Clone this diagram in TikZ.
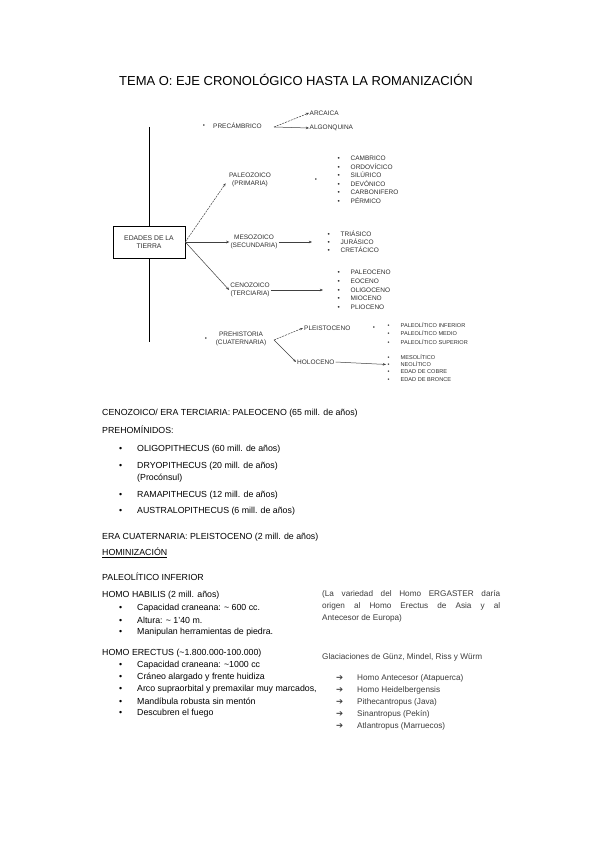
\documentclass[tikz,border=0pt]{standalone}
\usepackage{fontspec}
\setmainfont{Liberation Sans}
\newfontfamily\dejavu{DejaVu Sans}
\usetikzlibrary{arrows.meta,positioning}
\definecolor{inkgray}{HTML}{2E2E2E}
\definecolor{softink}{HTML}{3C3C3C}
\newcommand{\bul}[1]{\makebox[13pt][l]{\textbullet}#1}
\newcommand{\bb}[1]{\makebox[18pt][l]{\textbullet}#1}
\newcommand{\flecha}[1]{\makebox[21pt][l]{\dejavu\fontsize{8.5}{9}\selectfont ➔}#1}
\newcommand{\tld}{\textasciitilde}
\tikzset{
  >={Stealth[length=3.2pt,width=2.6pt]},
  % esquema
  caja/.style={draw=black,line width=0.6pt,minimum width=72pt,minimum height=32pt,
               align=center,font=\fontsize{6.8}{8.5}\selectfont,text=inkgray},
  era/.style={align=center,font=\fontsize{6.5}{8.5}\selectfont,text=inkgray,inner sep=1pt},
  sub/.style={anchor=west,font=\fontsize{6.5}{8}\selectfont,text=inkgray,inner sep=0.5pt},
  subp/.style={sub,font=\fontsize{5.6}{7}\selectfont},
  pt/.style={font=\fontsize{6}{7}\selectfont,text=inkgray,inner sep=0pt},
  tronco/.style={draw=black,line width=0.6pt},
  fl/.style={->,draw=black!75,line width=0.5pt},
  fld/.style={fl,dash pattern=on 2pt off 1pt},
  % texto
  tx/.style={anchor=west,font=\fontsize{8.8}{10}\selectfont,inner sep=0pt},
  txs/.style={tx,font=\fontsize{8.2}{12}\selectfont,text=softink},
}
\begin{document}
\begin{tikzpicture}[x=1pt,y=-1pt]
  \useasboundingbox[fill=white] (0,0) rectangle (600,848);
  \node[font=\fontsize{13}{15}\selectfont] (tit) at (296,80)
    {TEMA O: EJE CRONOLÓGICO HASTA LA ROMANIZACIÓN};
  % eje
  \coordinate (tope) at (149,127);
  \coordinate (pie) at (149,342);
  \node[caja] (tierra) at (149,242) {EDADES DE LA\\TIERRA};
  \draw[tronco] (tope) -- (tierra.north) (tierra.south) -- (pie);
  % precambrico
  \node[pt] (dpre) at (204,126) {\textbullet};
  \node[era,anchor=west] (prec) at (212,126) {PRECÁMBRICO};
  \coordinate (fpre) at (274,127);
  \node[sub] (arc) at (309,113) {ARCAICA};
  \node[sub] (alg) at (309,128) {ALGONQUINA};
  \draw[fld] (fpre) -- (arc.west);
  \draw[fl] (fpre) -- (alg.west);
  % paleozoico
  \node[era] (paleo) at (250,180) {PALEOZOICO\\(PRIMARIA)};
  \draw[fld,shorten >=4pt] (tierra.east) -- (paleo.west);
  \node[pt] (dpal) at (316,180) {\textbullet};
  \node[sub] (cam) at (337,158) {\bul{CAMBRICO}};
  \node[sub] (ord) at (337,166.5) {\bul{ORDOVÍCICO}};
  \node[sub] (sil) at (337,175) {\bul{SILÚRICO}};
  \node[sub] (dev) at (337,183.5) {\bul{DEVÓNICO}};
  \node[sub] (car) at (337,192) {\bul{CARBONIFERO}};
  \node[sub] (per) at (337,200.5) {\bul{PÉRMICO}};
  % mesozoico
  \node[era] (meso) at (254,242) {MESOZOICO\\(SECUNDARIA)};
  \draw[fl] (tierra.east) -- (meso.west);
  \node[sub] (tri) at (327,234) {\bul{TRIÁSICO}};
  \node[sub] (jur) at (327,242) {\bul{JURÁSICO}};
  \node[sub] (cre) at (327,250) {\bul{CRETÁCICO}};
  \draw[fl,shorten >=15pt] (meso.east) -- (jur.west);
  % cenozoico
  \node[era] (ceno) at (250,290) {CENOZOICO\\(TERCIARIA)};
  \draw[fl] (tierra.east) -- (ceno.west);
  \node[sub] (pal) at (337,272) {\bul{PALEOCENO}};
  \node[sub] (eoc) at (337,281) {\bul{EOCENO}};
  \node[sub] (oli) at (337,290) {\bul{OLIGOCENO}};
  \node[sub] (mio) at (337,298.5) {\bul{MIOCENO}};
  \node[sub] (pli) at (337,307) {\bul{PLIOCENO}};
  \draw[fl,shorten >=14pt] (ceno.east) -- (oli.west);
  % prehistoria
  \node[pt] (dpreh) at (206,339) {\textbullet};
  \node[era] (preh) at (241,339) {PREHISTORIA\\(CUATERNARIA)};
  \coordinate (fpreh) at (274,340);
  \node[era,anchor=west] (pleis) at (303,328) {PLEISTOCENO};
  \node[era,anchor=west] (holo) at (296,362) {HOLOCENO};
  \draw[fld] (fpreh) -- (pleis.west);
  \draw[fl] (fpreh) -- (holo.west);
  \node[pt] (dple) at (374,328) {\textbullet};
  \node[subp] (pinf) at (387,325) {\bul{PALEOLÍTICO INFERIOR}};
  \node[subp] (pmed) at (387,333.5) {\bul{PALEOLÍTICO MEDIO}};
  \node[subp] (psup) at (387,342) {\bul{PALEOLÍTICO SUPERIOR}};
  \node[subp] (mesl) at (387,357) {\bul{MESOLÍTICO}};
  \node[subp] (neol) at (387,364.5) {\bul{NEOLÍTICO}};
  \node[subp] (cob) at (387,372) {\bul{EDAD DE COBRE}};
  \node[subp] (bro) at (387,379.5) {\bul{EDAD DE BRONCE}};
  \draw[fl,shorten >=1pt] (holo.east) -- (neol.west);
  % texto
  \node[tx] (tcen) at (102,413) {CENOZOICO/ ERA TERCIARIA: PALEOCENO (65 mill. de años)};
  \node[tx] (tpre) at (102,430) {PREHOMÍNIDOS:};
  \node[tx] (toli) at (119,449) {\bb{OLIGOPITHECUS (60 mill. de años)}};
  \node[tx] (tdry) at (119,466) {\bb{DRYOPITHECUS (20 mill. de años)}};
  \node[tx] (tpro) at (137,478) {(Procónsul)};
  \node[tx] (tram) at (119,495) {\bb{RAMAPITHECUS (12 mill. de años)}};
  \node[tx] (taus) at (119,511) {\bb{AUSTRALOPITHECUS (6 mill. de años)}};
  \node[tx] (tcua) at (102,537) {ERA CUATERNARIA: PLEISTOCENO (2 mill. de años)};
  \node[tx] (thom) at (102,553) {\underline{HOMINIZACIÓN}};
  \node[tx] (tinf) at (102,577) {PALEOLÍTICO INFERIOR};
  \node[tx] (thab) at (102,595) {HOMO HABILIS (2 mill. años)};
  \node[tx] (hab1) at (119,608) {\bb{Capacidad craneana: \tld\ 600 cc.}};
  \node[tx] (hab2) at (119,620) {\bb{Altura: \tld\ 1'40 m.}};
  \node[tx] (hab3) at (119,632) {\bb{Manipulan herramientas de piedra.}};
  \node[tx] (tere) at (102,653) {HOMO ERECTUS (\tld1.800.000-100.000)};
  \node[tx] (ere1) at (119,665) {\bb{Capacidad craneana: \tld1000 cc}};
  \node[tx] (ere2) at (119,677) {\bb{Cráneo alargado y frente huidiza}};
  \node[tx] (ere3) at (119,689) {\bb{Arco supraorbital y premaxilar muy marcados,}};
  \node[tx] (ere4) at (119,701) {\bb{Mandíbula robusta sin mentón}};
  \node[tx] (ere5) at (119,713) {\bb{Descubren el fuego}};
  % columna derecha
  \node[txs,anchor=north west,text width=178pt,align=justify] (tvar) at (322,590)
    {(La variedad del Homo ERGASTER daría\linebreak origen al Homo Erectus de Asia y al\linebreak Antecesor de Europa)};
  \node[txs] (tgla) at (322,657) {Glaciaciones de Günz, Mindel, Riss y Würm};
  \node[txs] (g1) at (336,678) {\flecha{Homo Antecesor (Atapuerca)}};
  \node[txs] (g2) at (336,690) {\flecha{Homo Heidelbergensis}};
  \node[txs] (g3) at (336,702) {\flecha{Pithecantropus (Java)}};
  \node[txs] (g4) at (336,714) {\flecha{Sinantropus (Pekín)}};
  \node[txs] (g5) at (336,726) {\flecha{Atlantropus (Marruecos)}};
\end{tikzpicture}
\end{document}
